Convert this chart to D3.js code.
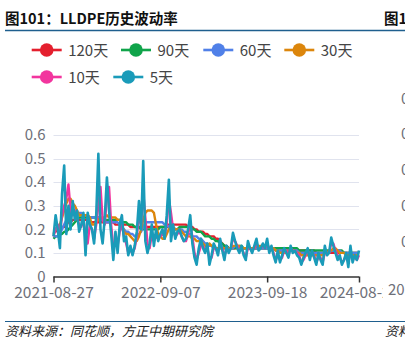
<!DOCTYPE html>
<html><head><meta charset="utf-8">
<script src="https://cdn.jsdelivr.net/npm/d3@7/dist/d3.min.js"></script>
<style>
html,body{margin:0;padding:0;background:#fff;}
svg{display:block;}
</style></head>
<body>
<svg id="c" width="405" height="342"></svg>
<script>
const seriesNames = ["120天","90天","60天","30天","10天","5天"];
const seriesColors = ["#e41f2e","#10a44a","#5080e8","#dc860c","#f2359e","#1a9bb9"];
const tickLabels = ["2021-08-27","2022-09-07","2023-09-18","2024-08-28"];
const tickIndex = [0,50,100,143];
const yTicks = [0,0.1,0.2,0.3,0.4,0.5,0.6];

const vol120 = [0.19,0.19,0.20,0.20,0.21,0.21,0.22,0.23,0.23,0.24,
0.24,0.24,0.24,0.24,0.24,0.24,0.24,0.23,0.23,0.23,
0.23,0.23,0.23,0.23,0.23,0.23,0.23,0.23,0.23,0.22,
0.22,0.22,0.22,0.22,0.22,0.22,0.21,0.21,0.21,0.21,
0.21,0.21,0.21,0.21,0.21,0.21,0.21,0.21,0.21,0.21,
0.21,0.21,0.21,0.22,0.22,0.22,0.22,0.22,0.22,0.22,
0.22,0.22,0.22,0.21,0.21,0.21,0.20,0.20,0.19,0.19,
0.19,0.18,0.18,0.17,0.17,0.17,0.16,0.16,0.15,0.14,
0.13,0.13,0.12,0.12,0.12,0.12,0.12,0.12,0.12,0.12,
0.12,0.12,0.12,0.12,0.12,0.12,0.12,0.12,0.12,0.12,
0.12,0.12,0.12,0.12,0.11,0.11,0.11,0.11,0.11,0.11,
0.11,0.11,0.11,0.11,0.11,0.11,0.11,0.11,0.11,0.11,
0.11,0.11,0.11,0.10,0.10,0.10,0.10,0.10,0.10,0.10,
0.10,0.10,0.10,0.10,0.10,0.10,0.10,0.10,0.10,0.10,
0.10,0.10,0.10,0.10];

const vol90 = [0.16,0.17,0.17,0.18,0.18,0.19,0.19,0.20,0.21,0.22,
0.23,0.24,0.25,0.25,0.25,0.25,0.25,0.25,0.25,0.25,
0.25,0.25,0.25,0.24,0.24,0.24,0.24,0.24,0.24,0.24,
0.24,0.24,0.23,0.23,0.23,0.22,0.22,0.22,0.21,0.21,
0.21,0.20,0.20,0.20,0.20,0.20,0.20,0.20,0.20,0.20,
0.21,0.21,0.21,0.21,0.21,0.20,0.20,0.20,0.20,0.21,
0.21,0.21,0.21,0.21,0.21,0.20,0.20,0.19,0.19,0.19,
0.18,0.17,0.17,0.17,0.16,0.16,0.15,0.15,0.14,0.14,
0.13,0.13,0.12,0.12,0.12,0.12,0.13,0.13,0.13,0.12,
0.12,0.12,0.12,0.12,0.12,0.12,0.12,0.12,0.12,0.12,
0.12,0.12,0.12,0.12,0.12,0.12,0.12,0.12,0.12,0.12,
0.12,0.12,0.12,0.12,0.12,0.11,0.11,0.11,0.11,0.11,
0.11,0.11,0.11,0.11,0.11,0.11,0.11,0.11,0.11,0.11,
0.11,0.11,0.11,0.11,0.11,0.11,0.10,0.10,0.10,0.10,
0.10,0.10,0.10,0.10];

const vol60 = [0.17,0.17,0.17,0.18,0.20,0.22,0.24,0.26,0.27,0.27,
0.27,0.27,0.27,0.27,0.26,0.26,0.26,0.25,0.25,0.25,
0.25,0.25,0.24,0.24,0.23,0.23,0.23,0.23,0.23,0.23,
0.23,0.22,0.21,0.20,0.19,0.19,0.18,0.18,0.17,0.17,
0.18,0.19,0.21,0.23,0.23,0.23,0.23,0.23,0.23,0.23,
0.23,0.23,0.22,0.22,0.21,0.21,0.21,0.20,0.20,0.20,
0.20,0.19,0.19,0.18,0.18,0.17,0.17,0.17,0.16,0.16,
0.15,0.14,0.14,0.13,0.13,0.12,0.12,0.12,0.12,0.12,
0.12,0.12,0.12,0.12,0.12,0.13,0.13,0.12,0.12,0.12,
0.12,0.12,0.12,0.12,0.12,0.12,0.12,0.12,0.12,0.12,
0.12,0.12,0.12,0.12,0.11,0.11,0.11,0.11,0.11,0.11,
0.11,0.11,0.11,0.11,0.11,0.10,0.10,0.10,0.10,0.10,
0.10,0.10,0.10,0.10,0.10,0.10,0.10,0.10,0.10,0.10,
0.11,0.11,0.11,0.11,0.11,0.10,0.10,0.10,0.10,0.10,
0.10,0.10,0.10,0.10];

const vol30 = [0.18,0.20,0.21,0.22,0.25,0.28,0.31,0.33,0.33,0.31,
0.30,0.28,0.26,0.26,0.26,0.26,0.26,0.25,0.22,0.22,
0.23,0.24,0.25,0.25,0.25,0.26,0.25,0.25,0.25,0.25,
0.24,0.24,0.22,0.19,0.18,0.18,0.17,0.16,0.15,0.15,
0.17,0.20,0.24,0.27,0.28,0.28,0.28,0.27,0.22,0.18,
0.17,0.16,0.16,0.18,0.20,0.21,0.21,0.20,0.20,0.20,
0.19,0.18,0.17,0.17,0.17,0.16,0.16,0.15,0.15,0.15,
0.14,0.13,0.13,0.14,0.13,0.13,0.12,0.12,0.12,0.12,
0.12,0.12,0.12,0.12,0.13,0.13,0.13,0.13,0.12,0.12,
0.12,0.12,0.12,0.12,0.12,0.13,0.13,0.13,0.13,0.13,
0.13,0.12,0.12,0.12,0.11,0.11,0.10,0.10,0.10,0.10,
0.11,0.11,0.11,0.11,0.10,0.10,0.09,0.09,0.09,0.09,
0.09,0.09,0.09,0.09,0.09,0.09,0.09,0.10,0.10,0.11,
0.11,0.12,0.12,0.11,0.10,0.10,0.10,0.09,0.09,0.09,
0.09,0.09,0.09,0.09];

const vol10 = [0.17,0.20,0.22,0.18,0.26,0.30,0.33,0.39,0.28,0.26,
0.28,0.25,0.22,0.21,0.24,0.18,0.14,0.22,0.20,0.16,
0.22,0.30,0.38,0.24,0.22,0.34,0.38,0.22,0.12,0.15,
0.13,0.19,0.22,0.17,0.14,0.10,0.11,0.10,0.12,0.17,
0.26,0.22,0.36,0.25,0.14,0.12,0.18,0.15,0.17,0.16,
0.17,0.18,0.17,0.22,0.33,0.27,0.20,0.17,0.18,0.19,
0.17,0.15,0.15,0.18,0.22,0.17,0.10,0.07,0.10,0.13,
0.13,0.11,0.12,0.08,0.08,0.12,0.12,0.10,0.14,0.12,
0.09,0.11,0.11,0.12,0.16,0.15,0.13,0.11,0.12,0.10,
0.08,0.12,0.12,0.11,0.12,0.14,0.12,0.12,0.13,0.12,
0.14,0.12,0.12,0.10,0.07,0.09,0.07,0.08,0.11,0.11,
0.09,0.12,0.11,0.11,0.10,0.09,0.06,0.07,0.09,0.11,
0.09,0.10,0.09,0.06,0.08,0.08,0.06,0.10,0.10,0.10,
0.14,0.14,0.11,0.09,0.08,0.06,0.07,0.09,0.06,0.10,
0.08,0.08,0.07,0.09];

const vol5 = [0.17,0.26,0.20,0.12,0.35,0.47,0.18,0.30,0.20,0.32,
0.24,0.28,0.19,0.22,0.27,0.09,0.27,0.22,0.20,0.14,
0.26,0.52,0.20,0.14,0.25,0.42,0.28,0.18,0.07,0.19,
0.10,0.22,0.26,0.15,0.17,0.09,0.13,0.09,0.13,0.19,
0.32,0.20,0.49,0.15,0.10,0.14,0.22,0.13,0.20,0.15,
0.18,0.20,0.16,0.26,0.41,0.15,0.22,0.16,0.19,0.20,
0.17,0.15,0.16,0.20,0.26,0.14,0.08,0.05,0.12,0.16,
0.12,0.10,0.14,0.05,0.09,0.14,0.12,0.09,0.16,0.11,
0.07,0.13,0.10,0.12,0.185,0.15,0.12,0.10,0.13,0.09,
0.07,0.15,0.12,0.10,0.13,0.16,0.11,0.12,0.14,0.12,
0.16,0.10,0.13,0.09,0.06,0.11,0.06,0.09,0.12,0.10,
0.08,0.13,0.10,0.11,0.09,0.08,0.05,0.08,0.10,0.12,
0.07,0.11,0.08,0.05,0.10,0.07,0.05,0.13,0.09,0.10,
0.165,0.13,0.10,0.07,0.09,0.05,0.07,0.10,0.04,0.13,
0.06,0.09,0.07,0.11];

const allSeries = [vol120, vol90, vol60, vol30, vol10, vol5];

const svg = d3.select("#c");
const W = 405, H = 342;
const plot = {left:53.5, right:359, top:135, bottom:276.5};
const cjk = "'Noto Sans CJK SC','Noto Sans',sans-serif";
const axisGray = "#6e7079";

// header
svg.append("text").attr("x",5).attr("y",24).attr("font-family",cjk).attr("font-weight",700)
  .attr("font-size",14.5).attr("fill","#111").text("图101：LLDPE历史波动率");
svg.append("text").attr("x",384).attr("y",24).attr("font-family",cjk).attr("font-weight",700)
  .attr("font-size",14.5).attr("fill","#111").text("图1");
svg.append("line").attr("x1",5).attr("x2",W).attr("y1",30.5).attr("y2",30.5)
  .attr("stroke","#1f5f8e").attr("stroke-width",1.5);

// footer
svg.append("line").attr("x1",5).attr("x2",W).attr("y1",321.5).attr("y2",321.5)
  .attr("stroke","#1f5f8e").attr("stroke-width",1.2);
svg.append("text").attr("x",5).attr("y",336).attr("font-family",cjk).attr("font-style","italic")
  .attr("font-size",13).attr("fill","#222").text("资料来源：同花顺，方正中期研究院");
svg.append("text").attr("x",385).attr("y",336).attr("font-family",cjk).attr("font-style","italic")
  .attr("font-size",13).attr("fill","#222").text("资料");

// neighbouring chart fragments
[99,134,170,206,242].forEach(y=>{
  svg.append("text").attr("x",401).attr("y",y+5).attr("font-family",cjk).attr("font-size",15)
    .attr("fill",axisGray).text("0");
});
svg.append("text").attr("x",388).attr("y",295).attr("font-family",cjk).attr("font-size",15)
  .attr("fill",axisGray).text("20");

const x = d3.scaleLinear().domain([0, vol5.length-1]).range([plot.left, plot.right]);
const y = d3.scaleLinear().domain([0,0.6]).range([plot.bottom, plot.top]);

// gridlines
svg.append("g").selectAll("line").data(yTicks.slice(1)).join("line")
  .attr("x1",plot.left).attr("x2",plot.right)
  .attr("y1",d=>Math.round(y(d))+0.5).attr("y2",d=>Math.round(y(d))+0.5)
  .attr("stroke","#e0e3ee").attr("stroke-width",1);

// y labels
const yAxis = d3.axisLeft(y).tickValues(yTicks).tickSize(0).tickPadding(8)
  .tickFormat(d=>d===0?"0":d3.format(".1f")(d));
const gy = svg.append("g").attr("transform",`translate(${plot.left},0)`).call(yAxis);
gy.select(".domain").remove();
gy.selectAll("text").attr("font-family",cjk).attr("font-size",15).attr("fill",axisGray);

// lines
svg.append("clipPath").attr("id","plotclip").append("rect")
  .attr("x",plot.left-2).attr("y",plot.top-20).attr("width",plot.right-plot.left+4).attr("height",plot.bottom-plot.top+20);
const line = d3.line().x((d,i)=>x(i)).y(d=>y(d));
const gl = svg.append("g").attr("clip-path","url(#plotclip)");
allSeries.forEach((s,k)=>{
  gl.append("path").attr("d",line(s)).attr("fill","none")
    .attr("stroke",seriesColors[k]).attr("stroke-width",k===5?2.6:2.4)
    .attr("stroke-linejoin","round");
});

// x axis (outer group clipped in page coordinates)
svg.append("clipPath").attr("id","xclip").append("rect")
  .attr("x",0).attr("y",265).attr("width",383).attr("height",45);
const xAxis = d3.axisBottom(x).tickValues(tickIndex).tickSize(6).tickPadding(4)
  .tickFormat((d,i)=>tickLabels[i]);
const gxOuter = svg.append("g").attr("clip-path","url(#xclip)");
const gx = gxOuter.append("g").attr("transform",`translate(0,${plot.bottom})`).call(xAxis);
gx.select(".domain").attr("stroke","#333").attr("stroke-width",1.5).attr("d",`M${plot.left},0.5H${plot.right}`);
gx.selectAll(".tick line").attr("stroke","#333").attr("stroke-width",1.5);
gx.selectAll("text").attr("font-family",cjk).attr("font-size",15.5).attr("fill",axisGray);

// legend
const legendPos = [[46.7,50],[136,50],[218.3,50],[299.3,50],[46.7,77],[128.3,77]];
const lg = svg.append("g");
seriesNames.forEach((n,k)=>{
  const [cx,cy] = legendPos[k];
  const g = lg.append("g");
  g.append("line").attr("x1",cx-15).attr("x2",cx+15).attr("y1",cy).attr("y2",cy)
    .attr("stroke",seriesColors[k]).attr("stroke-width",2.6);
  g.append("circle").attr("cx",cx).attr("cy",cy).attr("r",6.8).attr("fill",seriesColors[k]);
  g.append("text").attr("x",cx+21.5).attr("y",cy+5.5).attr("font-family",cjk).attr("font-size",15)
    .attr("fill","#444").text(n);
});
</script>
</body></html>
